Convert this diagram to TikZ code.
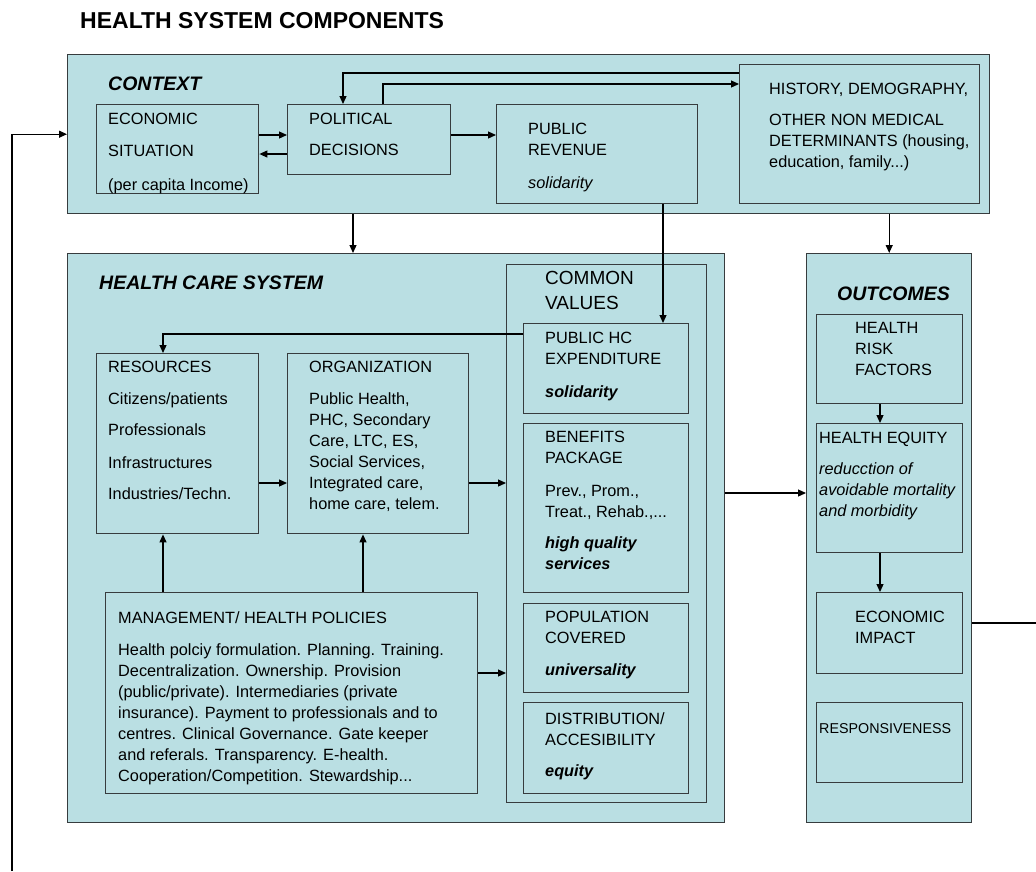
\documentclass[tikz,border=0pt]{standalone}
\usepackage{fontspec}
\setmainfont{Liberation Sans}
\usetikzlibrary{arrows.meta}
\definecolor{hcblue}{RGB}{186,223,227}
\definecolor{hcline}{RGB}{55,60,62}

\begin{document}
\begin{tikzpicture}[x=1pt,y=1pt,yscale=-1,xscale=1,
  box/.style={draw=hcline, fill=hcblue, line width=1.4pt, inner sep=0pt, anchor=north west},
  txt/.style={anchor=north west, inner sep=0pt, align=left, font=\fontsize{16.3}{21}\selectfont, execute at begin node=\strut},
  head/.style={txt, font=\fontsize{19.5}{24}\selectfont\bfseries\itshape},
  arr/.style={line width=1.2pt, -{Triangle[length=8pt,width=7pt]}},
  link/.style={line width=1.2pt}]
\useasboundingbox (0,0) rectangle (1036,871);

% Title
\node[txt, font=\fontsize{23}{28}\selectfont\bfseries] (title) at (80,9) {HEALTH SYSTEM COMPONENTS};

%Shape: context
\node[box, minimum width=922, minimum height=159] (context) at (67,54) {};
\node[box, minimum width=162, minimum height=89] (econ) at (96,104) {};
\node[box, minimum width=163, minimum height=70] (pol) at (287,104) {};
\node[box, minimum width=201, minimum height=99] (pubrev) at (496,104) {};
\node[box, minimum width=240, minimum height=139] (hist) at (739,64) {};

%Shape: health care system
\node[box, minimum width=657, minimum height=569] (hcs) at (67,253) {};
\node[box, minimum width=162, minimum height=180] (res) at (96,353) {};
\node[box, minimum width=181, minimum height=180] (org) at (287,353) {};
\node[box, minimum width=372, minimum height=201] (mgmt) at (105,592) {};
\node[box, minimum width=200, minimum height=538] (cvals) at (506,264) {};
\node[box, minimum width=165, minimum height=90] (pubhc) at (523,323) {};
\node[box, minimum width=165, minimum height=169] (benef) at (523,423) {};
\node[box, minimum width=165, minimum height=89] (popcov) at (523,603) {};
\node[box, minimum width=165, minimum height=91] (distr) at (523,702) {};

%Shape: outcomes
\node[box, minimum width=165, minimum height=569] (outcomes) at (806,253) {};
\node[box, minimum width=146, minimum height=89] (risk) at (816,314) {};
\node[box, minimum width=146, minimum height=129] (equity) at (816,423) {};
\node[box, minimum width=146, minimum height=81] (econimp) at (816,592) {};
\node[box, minimum width=146, minimum height=80] (resp) at (816,702) {};

% Text Node
\node[head] (contexttxt) at (108,73) {CONTEXT};
\node[txt] (econtxt) at (108,113) {ECONOMIC\\[11pt]SITUATION\\[13pt](per capita Income)};
\node[txt] (poltxt) at (309,113) {POLITICAL\\[10pt]DECISIONS};
\node[txt] (pubrevtxt) at (528,123) {PUBLIC\\REVENUE\\[12pt]\textit{solidarity}};
\node[txt] (histtxt) at (769,83) {HISTORY, DEMOGRAPHY,\\[10pt]OTHER NON MEDICAL\\DETERMINANTS (housing,\\education, family...)};

\node[head] (hcstxt) at (99,272) {HEALTH CARE SYSTEM};
\node[txt] (restxt) at (108,361) {RESOURCES\\[11pt]Citizens/patients\\[10pt]Professionals\\[12pt]Infrastructures\\[10pt]Industries/Techn.};
\node[txt] (orgtxt) at (309,361) {ORGANIZATION\\[11pt]Public Health,\\PHC, Secondary\\Care, LTC, ES,\\Social Services,\\Integrated care,\\home care, telem.};
\node[txt] (mgmttxt) at (118,611) {MANAGEMENT/ HEALTH POLICIES\\[11pt]Health polciy formulation. Planning. Training.\\Decentralization. Ownership. Provision\\(public/private). Intermediaries (private\\insurance). Payment to professionals and to\\centres. Clinical Governance. Gate keeper\\and referals. Transparency. E-health.\\Cooperation/Competition. Stewardship...};
\node[txt, font=\fontsize{19}{25}\selectfont] (cvalstxt) at (545,271) {COMMON\\VALUES};
\node[txt] (pubhctxt) at (545,332) {PUBLIC HC\\EXPENDITURE\\[12pt]\textbf{\textit{solidarity}}};
\node[txt] (beneftxt) at (545,431) {BENEFITS\\PACKAGE\\[12pt]Prev., Prom.,\\Treat., Rehab.,...\\[10pt]\textbf{\textit{high quality}}\\\textbf{\textit{services}}};
\node[txt] (popcovtxt) at (545,611) {POPULATION\\COVERED\\[11pt]\textbf{\textit{universality}}};
\node[txt] (distrtxt) at (545,712) {DISTRIBUTION/\\ACCESIBILITY\\[10pt]\textbf{\textit{equity}}};

\node[head] (outcomestxt) at (837,283) {OUTCOMES};
\node[txt] (risktxt) at (855,322) {HEALTH\\RISK\\FACTORS};
\node[txt] (equitytxt) at (819,432) {HEALTH EQUITY\\[10pt]\textit{reducction of}\\\textit{avoidable mortality}\\\textit{and morbidity}};
\node[txt] (econimptxt) at (855,611) {ECONOMIC\\IMPACT};
\node[txt, font=\fontsize{14.3}{21}\selectfont] (resptxt) at (819,719) {RESPONSIVENESS};

% connectors
\coordinate (r135) at (0,135);
\coordinate (r154) at (0,154);
\coordinate (c73) at (343,73);
\coordinate (c84) at (383,84);
\coordinate (c353) at (353,0);
\coordinate (c663) at (663,0);
\coordinate (c334) at (163,334);
\coordinate (c363) at (363,0);
\coordinate (r483) at (0,483);
\coordinate (r493) at (0,493);
\coordinate (r673) at (0,673);
\coordinate (c880) at (880,0);
\coordinate (fbl) at (12,871);
\coordinate (fbr) at (1036,623);

\draw[arr] (fbl) |- (context.west);
\draw[arr] (econ.east |- r135) -- (pol.west |- r135);
\draw[arr] (pol.west |- r154) -- (econ.east |- r154);
\draw[arr] (pol.east |- r135) -- (pubrev.west |- r135);
\draw[arr] (hist.west |- c73) -- (c73) -- (c73 |- pol.north);
\draw[arr] (c84 |- pol.north) -- (c84) -- (c84 -| hist.west);
\draw[arr] (context.south -| c353) -- (hcs.north -| c353);
\draw[arr] (context.south -| outcomes.north) -- (outcomes.north);
\draw[arr] (pubrev.south -| c663) -- (pubhc.north -| c663);
\draw[arr] (pubhc.west |- c334) -- (c334) -- (c334 |- res.north);
\draw[arr] (res.east |- r483) -- (org.west |- r483);
\draw[arr] (org.east |- r483) -- (cvals.west |- r483);
\draw[arr] (mgmt.north -| c334) -- (res.south -| c334);
\draw[arr] (mgmt.north -| c363) -- (org.south -| c363);
\draw[arr] (mgmt.east |- r673) -- (cvals.west |- r673);
\draw[arr] (hcs.east |- r493) -- (outcomes.west |- r493);
\draw[arr] (risk.south -| c880) -- (equity.north -| c880);
\draw[arr] (equity.south -| c880) -- (econimp.north -| c880);
\draw[link] (outcomes.east |- fbr) -- (fbr);

\end{tikzpicture}
\end{document}
